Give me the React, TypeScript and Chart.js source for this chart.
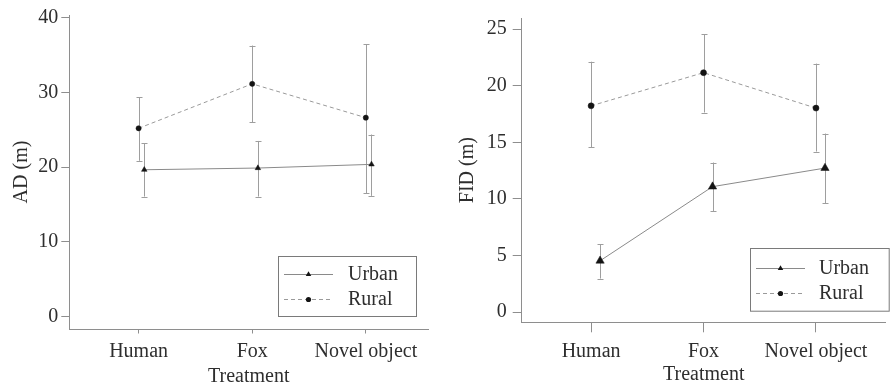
import React, { useEffect, useRef } from "react";
import { Chart, registerables } from "chart.js";

Chart.register(...registerables);

// ---------- data ----------
const categories = ["Human", "Fox", "Novel object"];
const seriesNames = ["Urban", "Rural"];

// AD (m)
const adUrban = [19.65, 19.88, 20.37];
const adUrbanLow = [16.07, 16.07, 16.16];
const adUrbanHigh = [23.16, 23.5, 24.36];
const adRural = [25.19, 31.13, 26.61];
const adRuralLow = [20.85, 25.99, 16.52];
const adRuralHigh = [29.35, 36.25, 36.44];
const adTicks = [0, 10, 20, 30, 40];

// FID (m)
const fidUrban = [4.53, 11.08, 12.72];
const fidUrbanLow = [2.96, 8.92, 9.6];
const fidUrbanHigh = [6.01, 13.21, 15.77];
const fidRural = [18.22, 21.15, 18.02];
const fidRuralLow = [14.55, 17.63, 14.18];
const fidRuralHigh = [22.12, 24.54, 21.95];
const fidTicks = [0, 5, 10, 15, 20, 25];

// ---------- style ----------
const FONT = "'Liberation Serif', 'Times New Roman', serif";
const TEXT = "#2e2e2e";
const AXIS = "#8e8e8e";
const ERR = "#9e9e9e";
const URBAN_LINE = "#8a8a8a";
const RURAL_LINE = "#9a9a9a";
const MARK = "#141414";

const errorBarPlugin = {
  id: "errorBars",
  beforeDatasetsDraw(chart: any) {
    const { ctx } = chart;
    const xs = chart.scales.x;
    const ys = chart.scales.y;
    ctx.save();
    ctx.strokeStyle = ERR;
    ctx.lineWidth = 1;
    chart.data.datasets.forEach((ds: any) => {
      ds.data.forEach((pt: any, i: number) => {
        const px = Math.round(xs.getPixelForValue(pt.x)) + 0.5;
        const y1 = ys.getPixelForValue(ds.errLow[i]);
        const y2 = ys.getPixelForValue(ds.errHigh[i]);
        const cap = ds.capHalf;
        ctx.beginPath();
        ctx.moveTo(px, y1);
        ctx.lineTo(px, y2);
        ctx.moveTo(px - cap, Math.round(y1) + 0.5);
        ctx.lineTo(px + cap, Math.round(y1) + 0.5);
        ctx.moveTo(px - cap, Math.round(y2) + 0.5);
        ctx.lineTo(px + cap, Math.round(y2) + 0.5);
        ctx.stroke();
      });
    });
    ctx.restore();
  },
};

function drawMarker(ctx: any, style: string, x: number, y: number, r: number) {
  ctx.beginPath();
  if (style === "triangle") {
    ctx.moveTo(x, y - r);
    ctx.lineTo(x + r * 0.866, y + r * 0.5);
    ctx.lineTo(x - r * 0.866, y + r * 0.5);
    ctx.closePath();
  } else {
    ctx.arc(x, y, r, 0, Math.PI * 2);
  }
  ctx.fill();
}

const boxLegendPlugin = {
  id: "boxLegend",
  afterDraw(chart: any) {
    const o = chart.options.plugins.boxLegend;
    if (!o) return;
    const { ctx } = chart;
    ctx.save();
    ctx.strokeStyle = "#7a7a7a";
    ctx.lineWidth = 1;
    ctx.strokeRect(Math.round(o.x) + 0.5, Math.round(o.y) + 0.5, o.w, o.h);
    chart.data.datasets.forEach((ds: any, i: number) => {
      const ry = Math.round(o.y + o.rows[i]) + 0.5;
      ctx.strokeStyle = ds.borderColor;
      ctx.setLineDash(ds.borderDash || []);
      ctx.beginPath();
      ctx.moveTo(o.x + o.lineStart, ry);
      ctx.lineTo(o.x + o.lineEnd, ry);
      ctx.stroke();
      ctx.setLineDash([]);
      ctx.fillStyle = MARK;
      drawMarker(ctx, ds.pointStyle, o.x + (o.lineStart + o.lineEnd) / 2, ry, ds.legendR);
      ctx.fillStyle = TEXT;
      ctx.font = `20px ${FONT}`;
      ctx.textBaseline = "middle";
      ctx.textAlign = "left";
      ctx.fillText(ds.label, o.x + o.textX, ry + 0.5);
    });
    ctx.restore();
  },
};

function buildConfig(p: any) {
  const mk = (vals: number[], off: number) => vals.map((v, i) => ({ x: i + off, y: v }));
  return {
    type: "scatter",
    data: {
      datasets: [
        {
          label: seriesNames[0],
          data: mk(p.urban, p.urbanOffset),
          errLow: p.urbanLow,
          errHigh: p.urbanHigh,
          capHalf: 3,
          showLine: true,
          borderColor: URBAN_LINE,
          borderWidth: 1,
          pointStyle: "triangle",
          pointRadius: p.triR,
          pointBackgroundColor: MARK,
          pointBorderColor: MARK,
          pointBorderWidth: 0.5,
          legendR: 3.2,
        },
        {
          label: seriesNames[1],
          data: mk(p.rural, 0),
          errLow: p.ruralLow,
          errHigh: p.ruralHigh,
          capHalf: 3,
          showLine: true,
          borderColor: RURAL_LINE,
          borderWidth: 1,
          borderDash: [4, 3],
          pointStyle: "circle",
          pointRadius: p.circR,
          pointBackgroundColor: MARK,
          pointBorderColor: MARK,
          pointBorderWidth: 0.5,
          legendR: 2.6,
        },
      ],
    },
    options: {
      responsive: false,
      animation: false,
      events: [],
      layout: { padding: p.padding },
      plugins: {
        legend: { display: false },
        tooltip: { enabled: false },
        boxLegend: p.legend,
      },
      scales: {
        x: {
          type: "linear",
          min: p.xMin,
          max: p.xMax,
          afterBuildTicks: (s: any) => {
            s.ticks = categories.map((_, i) => ({ value: i }));
          },
          afterFit: (s: any) => {
            s.height = p.xHeight;
          },
          ticks: {
            autoSkip: false,
            maxRotation: 0,
            padding: p.xTickPad,
            color: TEXT,
            font: { family: FONT, size: 20 },
            callback: (v: any) => categories[Math.round(Number(v))],
          },
          grid: {
            display: true,
            drawOnChartArea: false,
            drawTicks: true,
            tickLength: p.xTickLen,
            color: AXIS,
            tickColor: AXIS,
          },
          border: { display: true, color: AXIS, width: 1 },
          title: {
            display: true,
            text: "Treatment",
            color: TEXT,
            font: { family: FONT, size: 20, lineHeight: 1 },
            padding: { top: 0, bottom: p.xTitlePad },
          },
        },
        y: {
          type: "linear",
          position: "left",
          min: p.yMin,
          max: p.yMax,
          afterBuildTicks: (s: any) => {
            s.ticks = p.yTicks.map((v: number) => ({ value: v }));
          },
          afterFit: (s: any) => {
            s.width = p.yWidth;
          },
          ticks: {
            padding: p.yTickPad,
            color: TEXT,
            font: { family: FONT, size: 20 },
            callback: (v: any) => String(v),
          },
          grid: {
            display: true,
            drawOnChartArea: false,
            drawTicks: true,
            tickLength: p.yTickLen,
            color: AXIS,
            tickColor: AXIS,
          },
          border: { display: true, color: AXIS, width: 1 },
          title: {
            display: true,
            text: p.yTitle,
            color: TEXT,
            font: { family: FONT, size: 20, lineHeight: 1 },
            padding: { top: 11.7, bottom: 0 },
          },
        },
      },
    },
    plugins: [errorBarPlugin, boxLegendPlugin],
  };
}

const leftPanel = {
  left: 0,
  urban: adUrban,
  urbanLow: adUrbanLow,
  urbanHigh: adUrbanHigh,
  rural: adRural,
  ruralLow: adRuralLow,
  ruralHigh: adRuralHigh,
  yTicks: adTicks,
  yMin: -1.63,
  yMax: 40.33,
  xMin: -0.61,
  xMax: 2.55,
  urbanOffset: 0.05,
  triR: 3.2,
  circR: 2.6,
  padding: { top: 13, right: 16.7, left: 0, bottom: 0 },
  xHeight: 59,
  xTickLen: 4.5,
  xTickPad: 6.2,
  xTitlePad: 1.3,
  yWidth: 69.3,
  yTickLen: 8,
  yTickPad: 3,
  yTitle: "AD (m)",
  legend: { x: 278, y: 256, w: 138, h: 60, rows: [18, 43], lineStart: 6, lineEnd: 55, textX: 70 },
};

const rightPanel = {
  left: 446,
  urban: fidUrban,
  urbanLow: fidUrbanLow,
  urbanHigh: fidUrbanHigh,
  rural: fidRural,
  ruralLow: fidRuralLow,
  ruralHigh: fidRuralHigh,
  yTicks: fidTicks,
  yMin: -0.905,
  yMax: 25.98,
  xMin: -0.617,
  xMax: 2.62,
  urbanOffset: 0.08,
  triR: 4.8,
  circR: 3,
  padding: { top: 7.5, right: 0, left: 0, bottom: 0 },
  xHeight: 65.7,
  xTickLen: 10,
  xTickPad: 7.4,
  xTitlePad: 3.5,
  yWidth: 75.7,
  yTickLen: 9,
  yTickPad: 6,
  yTitle: "FID (m)",
  legend: { x: 304, y: 248, w: 138.7, h: 62.7, rows: [20, 45], lineStart: 6, lineEnd: 55, textX: 69 },
};

function Panel({ cfg }: { cfg: any }) {
  const ref = useRef<HTMLCanvasElement | null>(null);
  useEffect(() => {
    if (!ref.current) return;
    const chart = new Chart(ref.current, buildConfig(cfg) as any);
    return () => chart.destroy();
  }, [cfg]);
  return (
    <canvas
      ref={ref}
      width={445}
      height={388}
      style={{ position: "absolute", left: cfg.left, top: 0, width: 445, height: 388 }}
    />
  );
}

export default function App() {
  return (
    <div
      style={{
        position: "fixed",
        left: 0,
        top: 0,
        width: 891,
        height: 388,
        background: "#ffffff",
        overflow: "hidden",
      }}
    >
      <Panel cfg={leftPanel} />
      <Panel cfg={rightPanel} />
    </div>
  );
}
